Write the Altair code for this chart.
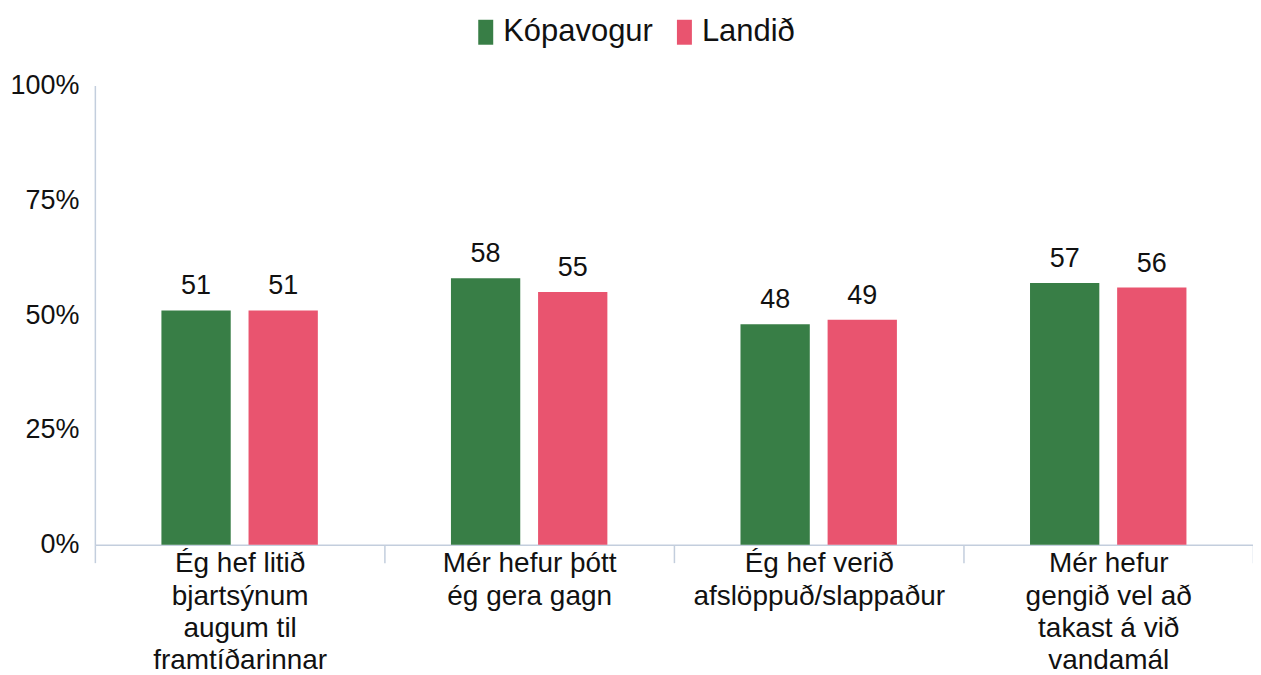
import altair as alt
import pandas as pd

categories = [
    "Ég hef litið\nbjartsýnum\naugum til\nframtíðarinnar",
    "Mér hefur þótt\nég gera gagn",
    "Ég hef verið\nafslöppuð/slappaður",
    "Mér hefur\ngengið vel að\ntakast á við\nvandamál",
]
series = ["Kópavogur", "Landið"]
kopavogur = [51, 58, 48, 57]
landid = [51, 55, 49, 56]
colors = ["#387E46", "#E9546F"]
y_ticks = [0, 25, 50, 75, 100]

rows = []
for c, k, l in zip(categories, kopavogur, landid):
    rows.append({"cat": c, "series": series[0], "value": k})
    rows.append({"cat": c, "series": series[1], "value": l})
df = pd.DataFrame(rows)

FONT = "Liberation Sans"
AXIS = "#C3CEDD"
TXT = "#111111"

x = alt.X(
    "cat:N", sort=categories, title=None,
    scale=alt.Scale(paddingInner=0, paddingOuter=0),
    axis=alt.Axis(
        labelAngle=0, labelExpr="split(datum.label, '\\n')", labelFont=FONT,
        labelFontSize=28, labelColor=TXT, labelLineHeight=32.5, labelPadding=-13,
        tickBand="extent", tickSize=18, tickColor=AXIS, domainColor=AXIS,
        tickWidth=1.5, domainWidth=1.5, labelLimit=0,
    ),
)
xo = alt.XOffset("series:N", sort=series,
                 scale=alt.Scale(paddingInner=0.2045, paddingOuter=0.764))
y = alt.Y(
    "value:Q", title=None,
    scale=alt.Scale(domain=[0, 100], nice=False),
    axis=alt.Axis(
        values=y_ticks, labelExpr="datum.value + '%'", grid=False, ticks=False,
        domainColor=AXIS, domainWidth=1.5, labelFontSize=27, labelPadding=16,
        labelFont=FONT, labelColor=TXT,
    ),
)

bars = alt.Chart(df).mark_bar().encode(
    x=x, xOffset=xo, y=y,
    color=alt.Color(
        "series:N", sort=series,
        scale=alt.Scale(domain=series, range=colors),
        legend=alt.Legend(
            title=None, orient="none", legendX=376, legendY=-69,
            direction="horizontal", symbolType="M-0.6,-1H0.6V1H-0.6Z",
            symbolSize=625, symbolStrokeWidth=0, symbolOpacity=1,
            labelFontSize=31, labelFont=FONT, labelColor=TXT,
            labelOffset=2, columnPadding=16, padding=0,
        ),
    ),
)

labels = alt.Chart(df).mark_text(
    dy=-16, baseline="alphabetic", fontSize=27, font=FONT, color=TXT
).encode(x=x, xOffset=xo, y=y, text="value:Q")

chart = alt.layer(bars, labels).properties(
    width=1160, height=460,
    autosize=alt.AutoSizeParams(type="none"),
    padding={"left": 87, "top": 77, "right": 0, "bottom": 130},
).configure_view(stroke=None)

chart.save("out.html", embed_options={"renderer": "svg", "actions": False})
